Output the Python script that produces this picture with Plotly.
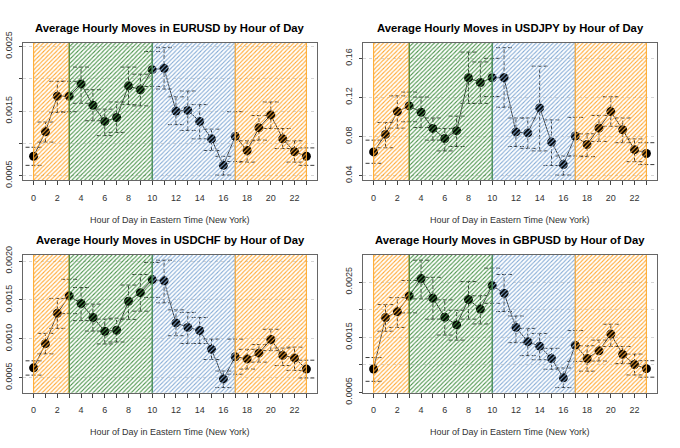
import plotly.graph_objects as go

hours = list(range(24))
pairs = ["EURUSD", "USDJPY", "USDCHF", "GBPUSD"]

eurusd_mean = [0.00080, 0.00118, 0.00173, 0.00173, 0.00192, 0.00159, 0.00134, 0.00140,
               0.00189, 0.00183, 0.00214, 0.00216, 0.00150, 0.00151, 0.00134, 0.00107,
               0.00066, 0.00111, 0.00089, 0.00124, 0.00144, 0.00107, 0.00087, 0.00080]
eurusd_hi = [0.00094, 0.00133, 0.00196, 0.00196, 0.00218, 0.00183, 0.00153, 0.00164,
             0.00218, 0.00207, 0.00242, 0.00248, 0.00172, 0.00181, 0.00160, 0.00122,
             0.00080, 0.00149, 0.00104, 0.00143, 0.00164, 0.00123, 0.00104, 0.00093]
eurusd_lo = [0.00066, 0.00102, 0.00148, 0.00149, 0.00162, 0.00135, 0.00112, 0.00117,
             0.00160, 0.00158, 0.00188, 0.00184, 0.00129, 0.00120, 0.00107, 0.00089,
             0.00051, 0.00072, 0.00071, 0.00105, 0.00123, 0.00092, 0.00071, 0.00066]

usdjpy_mean = [0.0643, 0.0822, 0.1055, 0.1113, 0.1048, 0.0883, 0.0779, 0.0860,
               0.1401, 0.1353, 0.1401, 0.1401, 0.0847, 0.0837, 0.1093, 0.0743,
               0.0513, 0.0805, 0.0718, 0.0886, 0.1055, 0.0870, 0.0666, 0.0627]
usdjpy_hi = [0.0763, 0.0944, 0.1216, 0.1255, 0.1204, 0.0990, 0.0883, 0.1009,
             0.1664, 0.1563, 0.1600, 0.1709, 0.0990, 0.0990, 0.1520, 0.0970,
             0.0601, 0.0996, 0.0828, 0.1016, 0.1207, 0.0990, 0.0776, 0.0737]
usdjpy_lo = [0.0526, 0.0685, 0.0886, 0.0951, 0.0892, 0.0763, 0.0653, 0.0698,
             0.1139, 0.1139, 0.1210, 0.1100, 0.0698, 0.0679, 0.0653, 0.0504,
             0.0406, 0.0601, 0.0594, 0.0750, 0.0905, 0.0737, 0.0543, 0.0513]

usdchf_mean = [0.000627, 0.000938, 0.001328, 0.001553, 0.001455, 0.001275, 0.001098, 0.001110,
               0.001484, 0.001594, 0.001762, 0.001746, 0.001205, 0.001147, 0.001107, 0.000865,
               0.000484, 0.000770, 0.000742, 0.000816, 0.000992, 0.000787, 0.000754, 0.000611]
usdchf_hi = [0.000717, 0.001070, 0.001520, 0.001766, 0.001660, 0.001447, 0.001254, 0.001266,
             0.001692, 0.001828, 0.001983, 0.002012, 0.001373, 0.001340, 0.001275, 0.000996,
             0.000586, 0.000996, 0.000865, 0.000926, 0.001123, 0.000881, 0.000893, 0.000725]
usdchf_lo = [0.000533, 0.000807, 0.001135, 0.001324, 0.001234, 0.001100, 0.000934, 0.000959,
             0.001250, 0.001356, 0.001533, 0.001463, 0.001040, 0.000940, 0.000940, 0.000734,
             0.000373, 0.000545, 0.000611, 0.000700, 0.000848, 0.000656, 0.000594, 0.000496]

gbpusd_mean = [0.000925, 0.001856, 0.001960, 0.002247, 0.002563, 0.002207, 0.001862, 0.001724,
               0.002184, 0.002011, 0.002437, 0.002299, 0.001678, 0.001420, 0.001339, 0.001115,
               0.000764, 0.001356, 0.001115, 0.001253, 0.001557, 0.001190, 0.001006, 0.000931]
gbpusd_hi = [0.001132, 0.002092, 0.002218, 0.002529, 0.002897, 0.002586, 0.002178, 0.001989,
             0.002511, 0.002253, 0.002753, 0.002638, 0.001885, 0.001661, 0.001569, 0.001299,
             0.000943, 0.001621, 0.001345, 0.001448, 0.001736, 0.001333, 0.001195, 0.001075]
gbpusd_lo = [0.000701, 0.001609, 0.001678, 0.001942, 0.002195, 0.001828, 0.001540, 0.001448,
             0.001828, 0.001741, 0.002115, 0.001966, 0.001402, 0.001167, 0.001092, 0.000920,
             0.000588, 0.001063, 0.000885, 0.001069, 0.001333, 0.001023, 0.000816, 0.000776]

y_tickvals = {
    "EURUSD": [0.0005, 0.0010, 0.0015, 0.0020, 0.0025],
    "USDJPY": [0.04, 0.08, 0.12, 0.16],
    "USDCHF": [0.0005, 0.0010, 0.0015, 0.0020],
    "GBPUSD": [0.0005, 0.0010, 0.0015, 0.0020, 0.0025],
}
y_ticktext = {
    "EURUSD": ["0.0005", "", "0.0015", "", "0.0025"],
    "USDJPY": ["0.04", "0.08", "0.12", "0.16"],
    "USDCHF": ["0.0005", "0.0010", "0.0015", "0.0020"],
    "GBPUSD": ["0.0005", "", "0.0015", "", "0.0025"],
}

# trading sessions (start hour, end hour, hatch colour, border colour)
sessions = [
    (10, 17, "#86acd6", "#9fbfe0"),
    (0, 3, "#ffa833", "#ffa726"),
    (17, 23, "#ffa833", "#ffa726"),
    (3, 10, "#4a944a", "#2e7d32"),
]

series = {
    "EURUSD": (eurusd_mean, eurusd_hi, eurusd_lo),
    "USDJPY": (usdjpy_mean, usdjpy_hi, usdjpy_lo),
    "USDCHF": (usdchf_mean, usdchf_hi, usdchf_lo),
    "GBPUSD": (gbpusd_mean, gbpusd_hi, gbpusd_lo),
}

W, H = 680, 448
box_x = [(22.7, 317.3), (362.7, 657.3)]
box_y = [(33.3, 178.3), (257.3, 402.3)]
CAP = 0.68
FONT = "Liberation Sans, Arial, sans-serif"

fig = go.Figure()
xr = (0 - 0.04 * 23, 23 + 0.04 * 23)

for i, p in enumerate(pairs):
    row, col = divmod(i, 2)
    ax = "" if i == 0 else str(i + 1)
    xref, yref = "x" + ax, "y" + ax
    mean, hi, lo = series[p]
    ymin, ymax = min(lo), max(hi)
    pad = 0.04 * (ymax - ymin)
    yr = (ymin - pad, ymax + pad)

    # error bars (dashed)
    ex, ey = [], []
    for h, a, b in zip(hours, lo, hi):
        ex += [h, h, None, h - CAP, h + CAP, None, h - CAP, h + CAP, None]
        ey += [a, b, None, a, a, None, b, b, None]
    fig.add_trace(go.Scatter(x=ex, y=ey, mode="lines", xaxis=xref, yaxis=yref,
                             line=dict(color="#3a3a3a", width=1, dash="4px,2px"),
                             hoverinfo="skip", showlegend=False))
    # mean line + points
    fig.add_trace(go.Scatter(x=hours, y=mean, mode="lines+markers", xaxis=xref, yaxis=yref,
                             line=dict(color="#3a3a3a", width=1),
                             marker=dict(color="black", size=9),
                             showlegend=False))
    # hatched session areas drawn on top
    span = yr[1] - yr[0]
    for s, e, hc, bc in sessions:
        fig.add_trace(go.Scatter(
            x=[s, s, e, e], y=[yr[0] - span, yr[1] + span, yr[1] + span, yr[0] - span],
            mode="lines", fill="toself", xaxis=xref, yaxis=yref,
            fillcolor="rgba(0,0,0,0)",
            fillpattern=dict(shape="/", fgcolor=hc, bgcolor="rgba(0,0,0,0)",
                             size=3, solidity=0.35, fillmode="replace"),
            line=dict(color=bc, width=1), hoverinfo="skip", showlegend=False))

    x0, x1 = box_x[col]
    y0, y1 = box_y[row]
    xkey = "xaxis" + ax
    ykey = "yaxis" + ax
    fig.layout[xkey] = dict(
        domain=[x0 / W, x1 / W], anchor=yref, range=list(xr),
        tickvals=hours, ticktext=[str(h) if h % 2 == 0 else "" for h in hours],
        ticks="outside", ticklen=4, tickcolor="#444", showgrid=False, zeroline=False,
        showline=True, mirror=True, linecolor="#666", linewidth=1,
        tickfont=dict(family=FONT, size=9, color="#333"), ticklabelstandoff=5)
    fig.layout[ykey] = dict(
        domain=[1 - y1 / H, 1 - y0 / H], anchor=xref, range=list(yr),
        tickvals=y_tickvals[p], ticktext=y_ticktext[p], tickangle=-90,
        ticks="outside", ticklen=3, tickcolor="#444",
        showgrid=True, gridcolor="#d6d6d6", griddash="dot", gridwidth=1, zeroline=False,
        showline=True, mirror=True, linecolor="#666", linewidth=1,
        tickfont=dict(family=FONT, size=9, color="#333"), ticklabelstandoff=3)

    cx = (x0 + x1) / 2 / W
    fig.add_annotation(text="<b>Average Hourly Moves in %s by Hour of Day</b>" % p,
                       x=cx, y=1 - (y0 - 15.5) / H, xref="paper", yref="paper",
                       showarrow=False, xanchor="center", yanchor="middle",
                       font=dict(family=FONT, size=11.3, color="black"))
    fig.add_annotation(text="Hour of Day in Eastern Time (New York)",
                       x=cx, y=1 - (y1 + 42) / H, xref="paper", yref="paper",
                       showarrow=False, xanchor="center", yanchor="middle",
                       font=dict(family=FONT, size=9, color="#333"))

fig.update_layout(width=W, height=H, margin=dict(l=0, r=0, t=0, b=0),
                  paper_bgcolor="white", plot_bgcolor="white", showlegend=False)
fig.write_html("out.html", config={"displayModeBar": False},
               post_script="document.body.style.margin='0px';document.body.style.overflow='hidden';")
